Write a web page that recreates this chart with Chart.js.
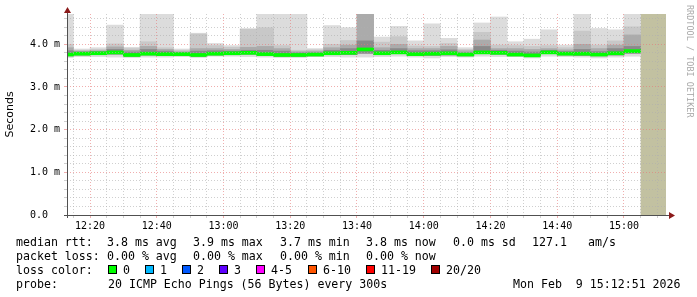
<!DOCTYPE html>
<html>
<head>
<meta charset="utf-8">
<script src="https://cdn.jsdelivr.net/npm/chart.js@4.4.1/dist/chart.umd.min.js"></script>
<style>
body { margin: 0; background: #fff; }
#wrap { position: relative; width: 697px; height: 297px; overflow: hidden; }
#graf { position: absolute; left: 0; top: 0; }
.t { position: absolute; font-family: "DejaVu Sans Mono", monospace; font-size: 11.6px; line-height: 14px; color: #000; white-space: pre; }
.box { position: absolute; width: 7px; height: 7px; border: 1px solid #000; }
#firma { position: absolute; left: 695px; top: 5px; transform-origin: 0 0; transform: rotate(90deg);
  font-family: "DejaVu Sans Mono", monospace; font-size: 8.5px; line-height: 10px; color: #aaa; white-space: pre; }
</style>
</head>
<body>
<div id="wrap">
  <canvas id="graf" width="697" height="297"></canvas>

  <div class="t" style="left:16px;top:235px">median rtt:</div>
  <div class="t" style="left:107px;top:235px">3.8 ms avg</div>
  <div class="t" style="left:193px;top:235px">3.9 ms max</div>
  <div class="t" style="left:280px;top:235px">3.7 ms min</div>
  <div class="t" style="left:366px;top:235px">3.8 ms now</div>
  <div class="t" style="left:453px;top:235px">0.0 ms sd</div>
  <div class="t" style="left:532px;top:235px">127.1</div>
  <div class="t" style="left:588px;top:235px">am/s</div>

  <div class="t" style="left:16px;top:249px">packet loss:</div>
  <div class="t" style="left:107px;top:249px">0.00 % avg</div>
  <div class="t" style="left:193px;top:249px">0.00 % max</div>
  <div class="t" style="left:280px;top:249px">0.00 % min</div>
  <div class="t" style="left:366px;top:249px">0.00 % now</div>

  <div class="t" style="left:16px;top:263px">loss color:</div>
  <div id="lossLegend"></div>

  <div class="t" style="left:16px;top:277px">probe:</div>
  <div class="t" style="left:108px;top:277px">20 ICMP Echo Pings (56 Bytes) every 300s</div>
  <div class="t" style="left:513px;top:277px">Mon Feb  9 15:12:51 2026</div>

  <div id="firma">RRDTOOL / TOBI OETIKER</div>
</div>

<script>
// 5 minute slots (start time of each slot)
const binStart = ['12:10','12:15','12:20','12:25','12:30','12:35','12:40','12:45','12:50','12:55',
                  '13:00','13:05','13:10','13:15','13:20','13:25','13:30','13:35','13:40','13:45',
                  '13:50','13:55','14:00','14:05','14:10','14:15','14:20','14:25','14:30','14:35',
                  '14:40','14:45','14:50','14:55','15:00'];
const binMinutes = 5;

// smoke (ms) - outer to inner bands
const rttMax    = [4.75,3.89,3.92,4.45,3.93,4.75,4.75,3.89,4.26,4.02,3.97,4.37,4.75,4.75,4.75,3.90,4.44,4.39,4.75,4.17,4.42,4.08,4.48,4.14,3.92,4.50,4.64,4.06,4.12,4.34,3.98,4.75,4.37,4.34,4.75];
const rttUpper  = [4.00,3.86,3.88,4.01,3.90,4.06,3.92,3.86,4.24,3.97,3.93,4.35,4.39,3.97,3.86,3.87,4.00,4.09,4.75,4.05,4.18,3.96,3.95,4.02,3.88,4.28,3.98,3.97,3.95,3.97,3.92,4.31,3.98,4.08,4.41];
const rttMid    = [3.92,3.84,3.85,3.94,3.86,3.95,3.88,3.83,3.90,3.90,3.88,3.93,3.95,3.90,3.83,3.84,3.92,3.98,4.75,3.92,4.00,3.90,3.90,3.95,3.85,4.10,3.90,3.90,3.88,3.90,3.87,4.00,3.90,3.98,4.22];
const rttHigh   = [3.85,3.82,3.83,3.88,3.82,3.88,3.84,3.80,3.84,3.85,3.84,3.86,3.86,3.84,3.80,3.80,3.86,3.90,4.08,3.86,3.90,3.85,3.85,3.87,3.80,3.95,3.86,3.84,3.82,3.86,3.83,3.88,3.83,3.90,3.95];
const rttMedian = [3.76,3.78,3.79,3.81,3.75,3.78,3.77,3.77,3.75,3.78,3.79,3.80,3.77,3.75,3.75,3.76,3.79,3.80,3.88,3.79,3.81,3.77,3.78,3.79,3.76,3.81,3.80,3.76,3.74,3.81,3.78,3.78,3.76,3.79,3.84];
const rttLow    = [3.73,3.75,3.76,3.77,3.72,3.75,3.74,3.74,3.72,3.75,3.76,3.77,3.74,3.72,3.72,3.73,3.76,3.76,3.79,3.76,3.78,3.74,3.74,3.75,3.73,3.78,3.77,3.73,3.71,3.78,3.75,3.74,3.73,3.75,3.79];
const rttMin    = [3.69,3.71,3.71,3.70,3.69,3.70,3.70,3.71,3.69,3.72,3.72,3.71,3.70,3.69,3.69,3.71,3.71,3.70,3.70,3.71,3.72,3.70,3.68,3.71,3.70,3.72,3.71,3.71,3.68,3.72,3.71,3.70,3.68,3.70,3.72];

// time window and the "no data yet" zone
const viewStart = '12:13:06';
const viewEnd = '15:12:36';
const unknownFrom = '15:05';

// tick labels
const timeLabels = ['12:20','12:40','13:00','13:20','13:40','14:00','14:20','14:40','15:00'];
const yTickLabels = ['0.0  ','1.0 m','2.0 m','3.0 m','4.0 m'];
const yMax = 4.71;

// loss legend
const lossNames  = ['0','1','2','3','4-5','6-10','11-19','20/20'];
const lossColors = ['#00ff00','#00b8ff','#0059ff','#5e00ff','#ff00ff','#ff5500','#ff0000','#a10000'];
const lossPos    = [108, 145, 182, 219, 256, 308, 366, 431];

function toMin(s) {
    const p = s.split(':').map(Number);
    return p[0] * 60 + p[1] + (p[2] || 0) / 60;
}
function fmt(v) {
    const h = Math.floor(v / 60), m = Math.round(v - h * 60);
    return h + ':' + String(m).padStart(2, '0');
}

const leg = document.getElementById('lossLegend');
lossNames.forEach((n, i) => {
    const b = document.createElement('div');
    b.className = 'box';
    b.style.left = lossPos[i] + 'px';
    b.style.top = '265px';
    b.style.background = lossColors[i];
    leg.appendChild(b);
    const t = document.createElement('div');
    t.className = 't';
    t.style.left = (lossPos[i] + 15) + 'px';
    t.style.top = '263px';
    t.textContent = n;
    leg.appendChild(t);
});

const slotMid = binStart.map(t => toMin(t) + binMinutes / 2);

function banda(lo, hi, color) {
    return {
        data: slotMid.map((x, i) => ({ x: x, y: [lo[i], hi[i]] })),
        backgroundColor: color,
        borderWidth: 0,
        grouped: false,
        barPercentage: 1,
        categoryPercentage: 1
    };
}

// median line, ~3px thick
const medianLine = banda(rttMedian.map(v => v - 0.035), rttMedian.map(v => v + 0.035), lossColors[0]);

const grisMenor = 'rgba(175,175,175,0.6)';
const rojoMayor = 'rgba(230,120,120,0.6)';

const decorado = {
    id: 'decorado',
    beforeDatasetsDraw(chart) {
        const { ctx, chartArea: a, scales: { x } } = chart;
        const x0 = x.getPixelForValue(toMin(unknownFrom));
        ctx.save();
        ctx.fillStyle = '#c2c1a1';
        ctx.fillRect(x0, a.top, a.right - x0, a.bottom - a.top);
        ctx.restore();
    },
    afterDraw(chart) {
        const { ctx, chartArea: a } = chart;
        ctx.save();
        ctx.strokeStyle = '#505050';
        ctx.lineWidth = 1;
        ctx.beginPath();
        ctx.moveTo(a.left + 0.5, a.bottom + 3);
        ctx.lineTo(a.left + 0.5, a.top - 4);
        ctx.moveTo(a.left - 3, a.bottom + 0.5);
        ctx.lineTo(a.right + 4, a.bottom + 0.5);
        ctx.stroke();
        ctx.fillStyle = '#8b1a1a';
        ctx.beginPath();
        ctx.moveTo(a.left + 0.5, a.top - 7);
        ctx.lineTo(a.left - 3, a.top - 1);
        ctx.lineTo(a.left + 4, a.top - 1);
        ctx.fill();
        ctx.beginPath();
        ctx.moveTo(a.right + 9, a.bottom + 0.5);
        ctx.lineTo(a.right + 3, a.bottom - 3);
        ctx.lineTo(a.right + 3, a.bottom + 4);
        ctx.fill();
        ctx.restore();
    }
};

const esMayorY = v => Math.abs(v - Math.round(v)) < 1e-6;
const esMayorX = v => timeLabels.includes(fmt(v));

new Chart(document.getElementById('graf'), {
    type: 'bar',
    data: {
        datasets: [
            medianLine,
            banda(rttLow, rttHigh, '#8a8a8a'),
            banda(rttLow, rttMid, '#ababab'),
            banda(rttLow, rttUpper, '#c8c8c8'),
            banda(rttMin, rttMax, '#dcdcdc')
        ]
    },
    options: {
        responsive: false,
        devicePixelRatio: 1,
        animation: false,
        events: [],
        layout: { padding: { top: 14, right: 31, bottom: 62, left: 0 } },
        plugins: { legend: { display: false }, tooltip: { enabled: false } },
        scales: {
            x: {
                type: 'linear',
                min: toMin(viewStart),
                max: toMin(viewEnd),
                offset: false,
                afterBuildTicks: s => {
                    const t = [];
                    for (let v = Math.ceil(s.min / binMinutes) * binMinutes; v <= s.max; v += binMinutes) t.push({ value: v });
                    s.ticks = t;
                },
                afterFit: s => { s.height = 20; },
                ticks: {
                    autoSkip: false, maxRotation: 0, padding: 2,
                    font: { family: 'DejaVu Sans Mono', size: 10 }, color: '#000',
                    callback: v => esMayorX(v) ? fmt(v) : ''
                },
                grid: {
                    z: 1, offset: false, tickLength: 3,
                    color: c => esMayorX(c.tick.value) ? rojoMayor : grisMenor,
                    tickColor: c => esMayorX(c.tick.value) ? rojoMayor : grisMenor
                },
                border: { display: false, dash: [1, 2] }
            },
            y: {
                type: 'linear',
                min: 0,
                max: yMax,
                afterBuildTicks: s => {
                    const t = [];
                    for (let i = 0; i * 0.2 <= s.max; i++) t.push({ value: Math.round(i * 0.2 * 10) / 10 });
                    s.ticks = t;
                },
                afterFit: s => { s.width = 67; },
                ticks: {
                    autoSkip: false, padding: 4,
                    font: { family: 'DejaVu Sans Mono', size: 10 }, color: '#000',
                    callback: v => esMayorY(v) ? yTickLabels[Math.round(v)] : ''
                },
                grid: {
                    z: 1, tickLength: 3,
                    color: c => esMayorY(c.tick.value) ? rojoMayor : grisMenor,
                    tickColor: c => esMayorY(c.tick.value) ? rojoMayor : grisMenor
                },
                border: { display: false, dash: [1, 2] },
                title: {
                    display: true, text: 'Seconds', color: '#000',
                    font: { family: 'DejaVu Sans', size: 11 },
                    padding: { top: 4, bottom: 0 }
                }
            }
        }
    },
    plugins: [decorado]
});
</script>
</body>
</html>
